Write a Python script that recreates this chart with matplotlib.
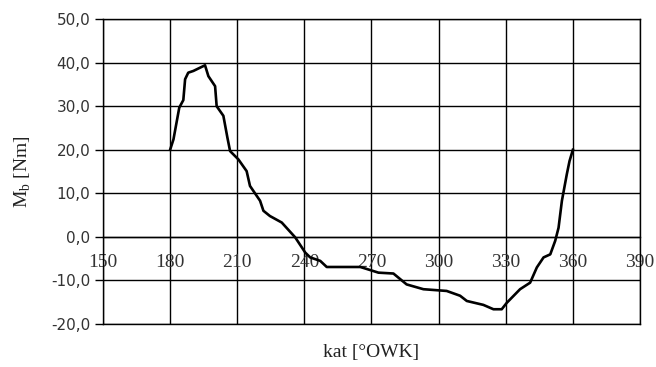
import matplotlib
matplotlib.use("Agg")
import numpy as np
import matplotlib.pyplot as plt
from matplotlib.ticker import FuncFormatter

# crank angle [deg] and moment M_b [Nm]
kat = [180.0, 181.5, 184.1, 185.9, 186.7, 188.1, 190.4, 195.6, 197.1, 200.1,
       200.8, 203.8, 205.6, 206.8, 210.5, 214.2, 215.7, 220.2, 221.7, 224.6,
       229.9, 235.9, 240.4, 242.6, 247.1, 250.0, 265.0, 269.4, 273.1, 279.8,
       285.7, 293.2, 303.6, 309.6, 312.6, 320.0, 324.5, 328.2, 330.5, 336.4,
       340.9, 343.9, 346.9, 349.9, 352.1, 353.6, 355.1, 357.3, 358.5, 360.0]
mb = [20.0, 22.4, 29.7, 31.4, 36.2, 37.7, 38.1, 39.4, 36.9, 34.6,
      30.0, 27.8, 22.8, 19.7, 17.8, 15.1, 11.7, 8.3, 6.0, 4.8,
      3.3, -0.1, -3.6, -4.7, -5.5, -6.9, -6.9, -7.6, -8.2, -8.4,
      -10.9, -12.0, -12.4, -13.5, -14.7, -15.6, -16.6, -16.6, -15.1, -12.0,
      -10.5, -7.0, -4.7, -4.0, -0.9, 2.1, 8.3, 14.4, 17.4, 20.0]

x_ticks = [150, 180, 210, 240, 270, 300, 330, 360, 390]
y_ticks = [-20, -10, 0, 10, 20, 30, 40, 50]

fig = plt.figure(figsize=(6.56, 3.67), dpi=100)
ax = fig.add_axes([0.157, 0.117, 0.8186, 0.831])

ax.plot(kat, mb, color="black", lw=1.9, solid_joinstyle="round")

ax.set_xlim(150, 390)
ax.set_ylim(-20, 50)
ax.set_xticks(x_ticks)
ax.set_yticks(y_ticks)
ax.grid(True, color="black", lw=1.0)
ax.set_axisbelow(True)

for s in ["left", "right", "top"]:
    ax.spines[s].set_linewidth(1.0)
# x axis crosses at zero, so close the frame at the bottom separately
ax.spines["bottom"].set_position(("data", 0))
ax.spines["bottom"].set_linewidth(1.0)
ax.axhline(y_ticks[0], color="black", lw=1.0, clip_on=False)

ax.yaxis.set_major_formatter(FuncFormatter(lambda v, p: f"{v:.1f}".replace(".", ",")))
ax.tick_params(axis="y", direction="out", length=6, width=1.0, pad=3,
               labelsize=11, labelcolor="#333333")
ax.tick_params(axis="x", length=0, pad=12, labelsize=14, labelcolor="#333333")
for lab in ax.get_xticklabels():
    lab.set_family("Liberation Serif")

ax.set_xlabel("kat [°OWK]", family="Liberation Serif", fontsize=14, color="#222222")
ax.xaxis.set_label_coords(0.5, -0.065)
ax.set_ylabel(r"M$_\mathregular{b}$ [Nm]", family="Liberation Serif", fontsize=14,
              color="#222222")
ax.yaxis.set_label_coords(-0.13, 0.5)

fig.savefig("out.png", dpi=100)
